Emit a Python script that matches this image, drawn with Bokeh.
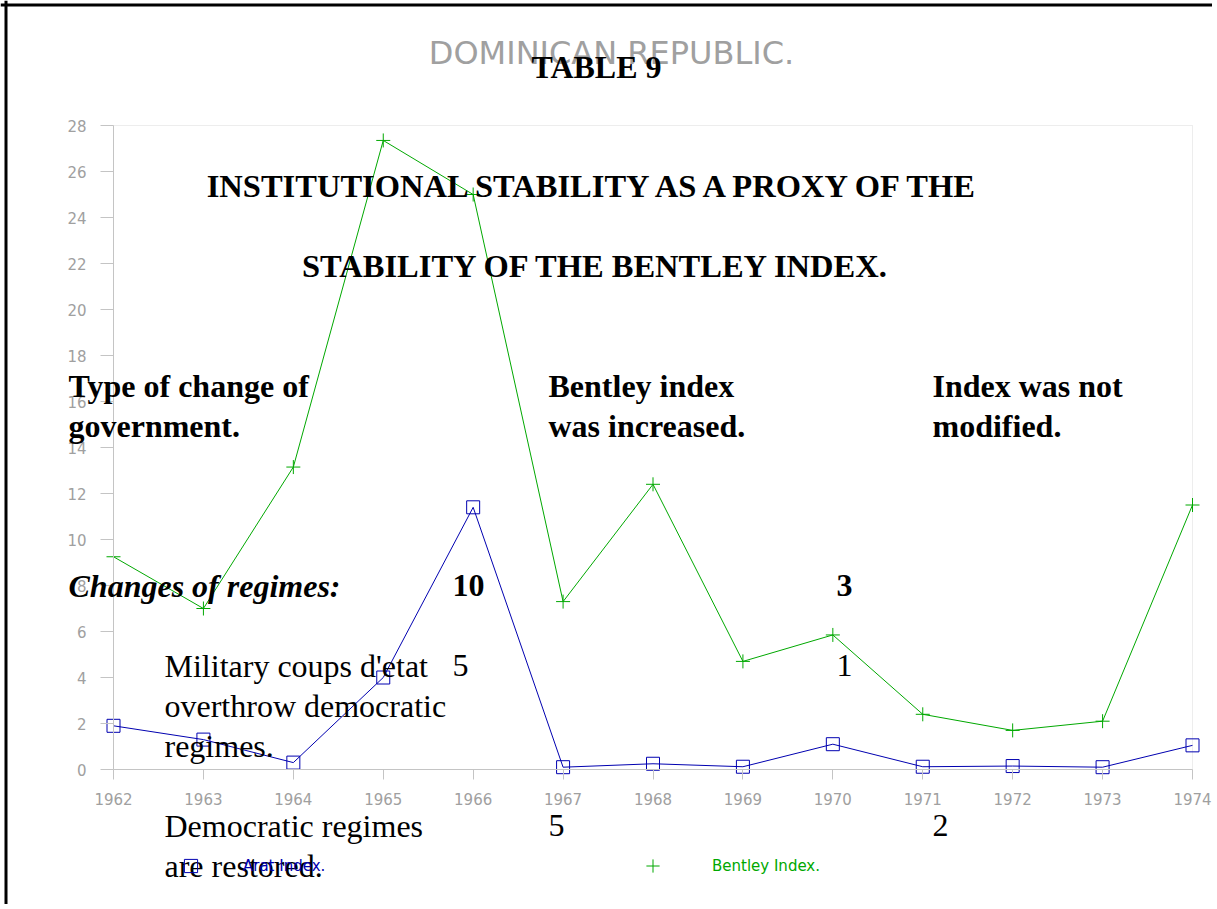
from bokeh.plotting import figure
from bokeh.models import (Range1d, FixedTicker, Label, Legend, LegendItem,
                          ColumnDataSource, LinearAxis, BoxAnnotation, Span)
from bokeh.embed import file_html
from bokeh.resources import INLINE

# ---------------- data ----------------
years = [1962, 1963, 1964, 1965, 1966, 1967, 1968, 1969, 1970, 1971, 1972, 1973, 1974]
bentley_index = [9.25, 7.0, 13.15, 27.35, 25.0, 7.3, 12.4, 4.7, 5.85, 2.4, 1.7, 2.1, 11.5]
arat_index = [1.9, 1.3, 0.3, 4.0, 11.4, 0.1, 0.25, 0.12, 1.1, 0.12, 0.15, 0.1, 1.05]
y_ticks = list(range(0, 29, 2))
y_min, y_max = 0, 28

chart_title = "DOMINICAN REPUBLIC."
series_names = ["Arat Index.", "Bentley Index."]

table_title = "TABLE 9"
table_heading = ["INSTITUTIONAL STABILITY AS A PROXY OF THE",
                 "STABILITY OF THE BENTLEY INDEX."]
col_headers = [["Type of change of", "government."],
               ["Bentley index", "was increased."],
               ["Index was not", "modified."]]
row_group = "Changes of regimes:"
row_group_vals = ["10", "3"]
row1_label = ["Military coups d'etat", "overthrow democratic", "regimes."]
row1_vals = ["5", "1"]
row2_label = ["Democratic regimes", "are restored."]
row2_vals = ["5", "2"]

GREEN = "#00A800"
BLUE = "#0000B0"
GRAY_TXT = "#A0A0A0"
GRAY_LINE = "#C4C4C4"
SERIF = "Liberation Serif"
SANS = "DejaVu Sans"

# layout (page pixels): canvas at (0, 0), plot area box edges below
OX, OY = 0, 0
W, H = 1212, 904
FL, FR, FT, FB = 113, 1192, 125, 769


def X(px):
    return years[0] + (px - FL) * (years[-1] - years[0]) / (FR - FL)


def Y(py):
    return y_min + (FB - py) * (y_max - y_min) / (FB - FT)


p = figure(width=W, height=H, output_backend="svg", toolbar_location=None,
           x_range=Range1d(X(OX), X(OX + W)), y_range=Range1d(Y(OY + H), Y(OY)),
           x_axis_location=None, y_axis_location=None,
           min_border=0)
p.grid.visible = False
p.outline_line_color = None
p.background_fill_color = "white"
p.border_fill_color = "white"

yax = LinearAxis(fixed_location=years[0], bounds=(y_min, y_max),
                 ticker=FixedTicker(ticks=y_ticks))
xax = LinearAxis(fixed_location=y_min, bounds=(years[0], years[-1]),
                 ticker=FixedTicker(ticks=years))
for ax in (xax, yax):
    ax.axis_line_color = GRAY_LINE
    ax.major_tick_line_color = GRAY_LINE
    ax.minor_tick_line_color = None
    ax.major_tick_in = 0
    ax.major_label_text_color = GRAY_TXT
    ax.major_label_text_font = SANS
    ax.major_label_text_font_size = "15px"
xax.major_tick_out = 10
yax.major_tick_out = 13
xax.major_label_standoff = 13
yax.major_label_standoff = 14
p.add_layout(yax, "left")
p.add_layout(xax, "below")

# plot-area box (top and right edges)
p.add_layout(BoxAnnotation(left=years[0], right=years[-1], bottom=y_min, top=y_max,
                           fill_alpha=0, line_color=GRAY_LINE, line_width=1,
                           level="underlay"))

# black page frame, top and left
p.add_layout(Span(location=Y(4.5), dimension="width", line_color="black",
                  line_width=3))
p.add_layout(Span(location=X(5.5), dimension="height", line_color="black",
                  line_width=3))

src = ColumnDataSource(dict(year=years, bentley=bentley_index, arat=arat_index))
l_b = p.line("year", "bentley", source=src, line_color=GREEN, line_width=1)
m_b = p.scatter("year", "bentley", source=src, marker="cross", size=14,
                line_color=GREEN, line_width=1)
l_a = p.line("year", "arat", source=src, line_color=BLUE, line_width=1)
m_a = p.scatter("year", "arat", source=src, marker="square", size=13,
                line_color=BLUE, fill_color=None, line_width=1)


def lab(px, py, text, size="32px", font=SERIF, style="normal", color="black",
        align="left"):
    p.add_layout(Label(x=X(px), y=Y(py), text=text, text_font=font,
                       text_font_size=size, text_font_style=style,
                       text_color=color, text_align=align,
                       text_baseline="alphabetic"))


# gray chart title
lab(611, 52, chart_title, size="32px", font=SANS, color=GRAY_TXT, align="center")

# table overlay (baselines)
lab(596, 66, table_title, size="32px", style="bold", align="center")
lab(596, 185, table_heading[0], size="32.5px", style="bold", align="center")
lab(596, 265, table_heading[1], size="32.5px", style="bold", align="center")
for i, xpx in enumerate([68, 548, 932]):
    lab(xpx, 385, col_headers[i][0], style="bold")
    lab(xpx, 425, col_headers[i][1], style="bold")
lab(68, 585, row_group, style="bold italic")
lab(452, 585, row_group_vals[0], style="bold")
lab(836, 585, row_group_vals[1], style="bold")
for j, t in enumerate(row1_label):
    lab(164, 665 + 40 * j, t)
lab(452, 665, row1_vals[0])
lab(836, 665, row1_vals[1])
for j, t in enumerate(row2_label):
    lab(164, 825 + 40 * j, t)
lab(548, 825, row2_vals[0])
lab(932, 825, row2_vals[1])


# legends (locations relative to the canvas bottom-left)
GLYPH = 33


def make_legend(name, rends, color, center_px, label_px):
    left = round(center_px - GLYPH / 2)
    lg = Legend(items=[LegendItem(label=name, renderers=rends)],
                location=(left - OX, round(OY + H - (866 + GLYPH / 2))),
                orientation="horizontal",
                padding=0, margin=0, spacing=0,
                glyph_width=GLYPH, glyph_height=GLYPH,
                label_standoff=label_px - (left + GLYPH), label_text_font=SANS,
                label_text_font_size="15px", label_text_color=color,
                border_line_alpha=0, background_fill_alpha=0)
    p.add_layout(lg, "center")


make_legend(series_names[0], [m_a], BLUE, 190, 243)
make_legend(series_names[1], [m_b], GREEN, 653, 712)

open("out.html", "w").write(file_html(p, INLINE))
